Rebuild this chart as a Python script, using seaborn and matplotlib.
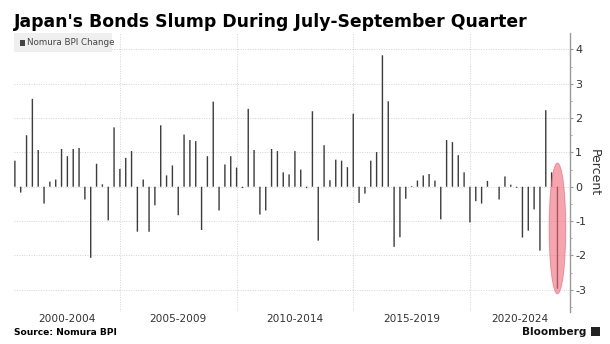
import numpy as np
import pandas as pd
import matplotlib
matplotlib.use("Agg")
import matplotlib.pyplot as plt
from matplotlib.patches import Ellipse, Rectangle
import seaborn as sns

# ---- data ----
quarters = [str(p) for p in pd.period_range("2000Q2", "2023Q3", freq="Q")]
bpi_change = [
    0.76, -0.17, 1.50, 2.56, 1.07, -0.49, 0.15, 0.21, 1.10, 0.89,
    1.10, 1.13, -0.37, -2.07, 0.67, 0.07, -0.98, 1.73, 0.52, 0.84,
    1.04, -1.31, 0.21, -1.31, -0.54, 1.79, 0.33, 0.62, -0.83, 1.52,
    1.36, 1.33, -1.26, 0.89, 2.48, -0.69, 0.65, 0.89, 0.56, -0.04,
    2.27, 1.07, -0.81, -0.69, 1.10, 1.04, 0.42, 0.36, 1.04, 0.50,
    -0.04, 2.20, -1.57, 1.21, 0.19, 0.79, 0.76, 0.57, 2.13, -0.47,
    -0.20, 0.76, 1.01, 3.83, 2.49, -1.75, -1.47, -0.35, 0.02, 0.18,
    0.33, 0.37, 0.18, -0.95, 1.36, 1.30, 0.92, 0.42, -1.04, -0.42,
    -0.49, 0.17, 0.00, -0.37, 0.30, 0.06, -0.03, -1.48, -1.28, -0.66,
    -1.86, 2.23, 0.42, -2.97,
]
period_labels = ["2000-2004", "2005-2009", "2010-2014", "2015-2019", "2020-2024"]
period_starts = ["2005Q1", "2010Q1", "2015Q1", "2020Q1"]  # boundaries (grid lines)
y_ticks = [-3, -2, -1, 0, 1, 2, 3, 4]

df = pd.DataFrame({"quarter": quarters, "change": bpi_change})

sns.set_style("white")
plt.rcParams["font.family"] = ["DejaVu Sans"]

fig = plt.figure(figsize=(6.10, 3.44), dpi=100)
ax = fig.add_axes([14 / 610, 1 - 311.7 / 344, (569.7 - 14) / 610, (311.7 - 33.3) / 344])

sns.barplot(data=df, x="quarter", y="change", color="#3c3c3c", saturation=1,
            width=0.24, ax=ax, zorder=3, linewidth=0)
for p in ax.patches:
    p.set_snap(False)
    p.set_antialiased(True)

n = len(quarters)
xmin, xmax = -0.15, 95.1
ax.set_xlim(xmin, xmax)
ax.set_ylim(-3.64, 4.47)

# grid lines at period boundaries (bars sit at quarter-end dates)
bounds = [quarters.index(q) - 1 for q in period_starts]
for b in bounds:
    ax.axvline(b, color="#d4d4d4", lw=0.7, ls=(0, (1, 1.5)), zorder=1)
for yt in y_ticks:
    ax.axhline(yt, color="#d4d4d4", lw=0.7, ls=(0, (1, 1.5)), zorder=1)

# period labels centred in visible segments
edges = [xmin] + bounds + [xmax]
ax.set_xticks([])
for i, lab in enumerate(period_labels):
    c = (edges[i] + edges[i + 1]) / 2
    ax.text(c, -0.027, lab, transform=ax.get_xaxis_transform(), ha="center", va="center",
            fontsize=7.6, color="#333333")

# right axis
for s in ["top", "left", "bottom"]:
    ax.spines[s].set_visible(False)
ax.spines["right"].set_color("#9a9a9a")
ax.spines["right"].set_linewidth(1.0)
ax.yaxis.tick_right()
ax.set_yticks(y_ticks)
ax.set_yticklabels([str(t) for t in y_ticks])
ax.set_yticks(np.arange(-3.5, 4.5, 0.5), minor=True)
ax.tick_params(axis="y", which="major", direction="out", length=2.5, width=0.8,
               color="#9a9a9a", labelsize=8, labelcolor="#333333", pad=1.5)
ax.tick_params(axis="y", which="minor", direction="out", length=1.5, width=0.6,
               color="#9a9a9a")
ax.yaxis.set_label_position("right")
ax.set_ylabel("Percent", rotation=270, fontsize=9, color="#333333", labelpad=10)
ax.set_xlabel("")

# highlight ellipse over the latest quarter
ax.add_patch(Ellipse((n - 1, -1.215), width=2.86, height=3.81,
                     facecolor="#f06878", edgecolor="#e05a6a", lw=0.6,
                     alpha=0.6, zorder=4))

# legend box
fig.patches.append(Rectangle((14 / 610, 1 - 51.7 / 344), 97.5 / 610, 18.4 / 344,
                             transform=fig.transFigure, facecolor="#efefef",
                             edgecolor="none", zorder=5))
fig.patches.append(Rectangle((20 / 610, 1 - 45.5 / 344), 5 / 610, 5 / 344,
                             transform=fig.transFigure, facecolor="#444444",
                             edgecolor="none", zorder=6))
fig.text(27 / 610, 1 - 42.8 / 344, "Nomura BPI Change", fontsize=6.3, color="#444444",
         va="center", ha="left", zorder=7)

# title
fig.text(14 / 610, 1 - 26.7 / 344, "Japan's Bonds Slump During July-September Quarter",
         fontsize=12.4, fontweight="heavy", color="#000000", ha="left", va="baseline")

# footer
fig.text(14 / 610, 1 - 332.7 / 344, "Source: Nomura BPI", fontsize=6.6,
         fontweight="bold", color="#000000", ha="left", va="center")
fig.text(586 / 610, 1 - 332 / 344, "Bloomberg", fontsize=7.6, fontweight="bold",
         color="#111111", ha="right", va="center")
fig.patches.append(Rectangle((591 / 610, 1 - 336 / 344), 8.5 / 610, 9 / 344,
                             transform=fig.transFigure, facecolor="#222222",
                             edgecolor="none"))

fig.savefig("out.png", dpi=100, facecolor="white")
